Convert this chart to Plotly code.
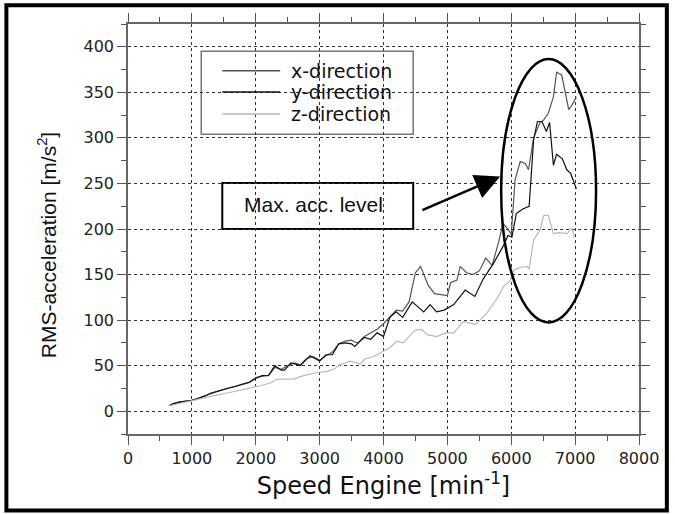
import plotly.graph_objects as go

# ---------------- data ----------------
x_speed = [650, 700, 800, 900, 1000, 1100, 1200, 1300, 1400, 1500, 1600, 1700, 1800, 1900,
           2000, 2100, 2200, 2300, 2400, 2500, 2600, 2700, 2800, 2900, 3000, 3100, 3200,
           3300, 3400, 3500, 3550, 3600, 3700, 3800, 3900, 4000, 4100, 4200, 4300, 4400,
           4500, 4580, 4700, 4800, 4900, 5000, 5050, 5150, 5200, 5300, 5400, 5500, 5600,
           5700, 5800, 5870, 5950, 6000, 6060, 6140, 6220, 6270, 6350, 6400, 6450, 6500,
           6580, 6660, 6710, 6790, 6900, 6950, 7020]
x_dir = [6, 8, 10, 11, 12, 14.5, 17, 19.5, 22, 24, 26, 27.5, 30, 32,
         37, 38.5, 39, 48, 46, 50, 53, 51, 58, 60, 56, 61, 65,
         74, 77, 78, 76, 75, 82, 86, 90, 96, 104, 111, 110, 120,
         152, 159, 138, 129, 128, 127, 141, 144, 159, 152, 150, 154, 168,
         160, 185, 206, 200, 194, 254, 274, 272, 265, 300, 308, 317, 319,
         327, 345, 372, 369, 331, 336, 345]

y_speed = [650, 700, 800, 900, 1000, 1100, 1200, 1300, 1400, 1500, 1600, 1700, 1800, 1900,
           2000, 2100, 2200, 2300, 2400, 2450, 2550, 2700, 2850, 3000, 3100, 3200, 3300,
           3400, 3500, 3550, 3650, 3700, 3800, 3900, 4000, 4100, 4200, 4300, 4450, 4630,
           4730, 4830, 4950, 5100, 5280, 5430, 5560, 5720, 5880, 5950, 6010, 6080, 6180,
           6280, 6350, 6410, 6480, 6550, 6600, 6660, 6710, 6800, 6870, 6930, 7020]
y_dir = [6, 8, 10, 11, 12, 14, 16.5, 20, 22, 24, 26, 28, 30, 31.5,
         36, 39, 39.5, 50, 45, 45, 53, 50, 61, 55, 62, 62, 74,
         75, 74, 71, 78, 81, 79, 86, 82, 103, 109, 103, 120, 109,
         117, 109, 111, 117, 133, 126, 145, 162, 182, 193, 191, 217, 222,
         225, 298, 318, 318, 307, 317, 270, 282, 277, 265, 261, 244]

z_speed = [650, 800, 1000, 1200, 1400, 1550, 1700, 1860, 2070, 2230, 2330, 2450, 2600, 2750,
           2960, 3100, 3220, 3320, 3480, 3640, 3700, 3850, 3950, 4100, 4210, 4310, 4450,
           4520, 4600, 4680, 4830, 4970, 5100, 5250, 5440, 5620, 5780, 5880, 5980, 6040,
           6150, 6250, 6280, 6350, 6450, 6510, 6580, 6660, 6750, 6870, 6950, 6990]
z_dir = [6, 8.5, 11, 14.5, 18, 20, 22, 24.5, 28, 31, 35, 35, 35.5, 39,
         42.5, 43.5, 46, 51, 55, 52, 57, 60, 64, 70, 77, 75, 86,
         89.5, 89.5, 84, 82, 86, 86, 98.6, 95, 108, 124, 137, 143, 155,
         158, 159, 156, 188, 199, 215, 215, 195, 196, 195, 201, 190]

series_names = ["x-direction", "y-direction", "z-direction"]
series_colors = ["#555555", "#111111", "#b8b8b8"]

x_ticks = list(range(0, 8001, 1000))
y_ticks = list(range(0, 401, 50))

ARIAL = "Liberation Sans, Arial, sans-serif"
WIDE = "DejaVu Sans, Verdana, sans-serif"

fig = go.Figure()
for name, xs, ys, col in zip(series_names, [x_speed, y_speed, z_speed],
                             [x_dir, y_dir, z_dir], series_colors):
    fig.add_trace(go.Scatter(x=xs, y=ys, mode="lines", name=name,
                             line=dict(color=col, width=1.2), showlegend=False))

axis_common = dict(
    showline=True, linecolor="#666666", linewidth=1.5, mirror="ticks",
    ticks="outside", ticklen=9, tickwidth=1.2, tickcolor="#555555",
    showgrid=True, gridcolor="#333333", gridwidth=1, griddash="dot",
    zeroline=False,
    tickfont=dict(family=WIDE, size=16, color="#222222"),
)

fig.update_xaxes(range=[0, 8000], tickvals=x_ticks,
                 ticktext=[str(v) for v in x_ticks],
                 minor=dict(dtick=500, tick0=0, ticks="outside", ticklen=5,
                            tickcolor="#555555", showgrid=False),
                 title=dict(text="Speed Engine [min<sup>-1</sup>]",
                            font=dict(family=WIDE, size=24, color="#111111"),
                            standoff=9),
                 **axis_common)
fig.update_yaxes(range=[-25, 425], tickvals=y_ticks,
                 ticktext=[str(v) for v in y_ticks],
                 minor=dict(dtick=25, tick0=0, ticks="outside", ticklen=5,
                            tickcolor="#555555", showgrid=False),
                 **axis_common)

# ---------------- legend (drawn inside a framed box, as in the reference) -------------
leg_y = [373.7, 350.4, 326.2]
shapes = [
    # outer frame
    dict(type="rect", xref="paper", yref="paper", x0=-0.238, x1=1.0545,
         y0=-0.1865, y1=1.0455, line=dict(color="black", width=4)),
    # legend box
    dict(type="rect", xref="x", yref="y", x0=1147, x1=4465, y0=304, y1=395,
         line=dict(color="#777777", width=1.5), fillcolor="white", layer="below"),
    # annotation box
    dict(type="rect", xref="x", yref="y", x0=1476, x1=4465, y0=200, y1=250.5,
         line=dict(color="black", width=2), fillcolor="white", layer="below"),
    # ellipse around max level
    dict(type="circle", xref="x", yref="y", x0=5842, x1=7328, y0=97.5, y1=386.5,
         line=dict(color="black", width=2.5)),
]
annotations = []
for name, col, ly in zip(series_names, series_colors, leg_y):
    shapes.append(dict(type="line", xref="x", yref="y", x0=1476, x1=2383, y0=ly, y1=ly,
                       line=dict(color=col, width=1.5)))
    annotations.append(dict(x=2520, y=ly, xref="x", yref="y", text=name,
                            showarrow=False, xanchor="left", yanchor="middle",
                            font=dict(family=WIDE, size=19, color="#111111")))

annotations += [
    dict(x=2900, y=227, xref="x", yref="y", text="Max. acc. level", showarrow=False,
         font=dict(family=ARIAL, size=21, color="#111111")),
    dict(x=5826, y=257.5, ax=4585, ay=220, xref="x", yref="y", axref="x", ayref="y",
         text="", showarrow=True, arrowhead=2, arrowsize=2.0, arrowwidth=2.5,
         arrowcolor="black"),
    # y-axis title
    dict(x=-0.158, y=0.461, xref="paper", yref="paper",
         text="RMS-acceleration [m/s<sup>2</sup>]", textangle=-90, showarrow=False,
         xanchor="center", yanchor="middle",
         font=dict(family=ARIAL, size=21, color="#111111")),
]

fig.update_layout(
    width=675, height=514,
    margin=dict(l=128, r=36, t=24, b=80),
    paper_bgcolor="white", plot_bgcolor="rgba(0,0,0,0)",
    shapes=shapes, annotations=annotations,
    showlegend=False,
)

fig.write_html("out.html")
